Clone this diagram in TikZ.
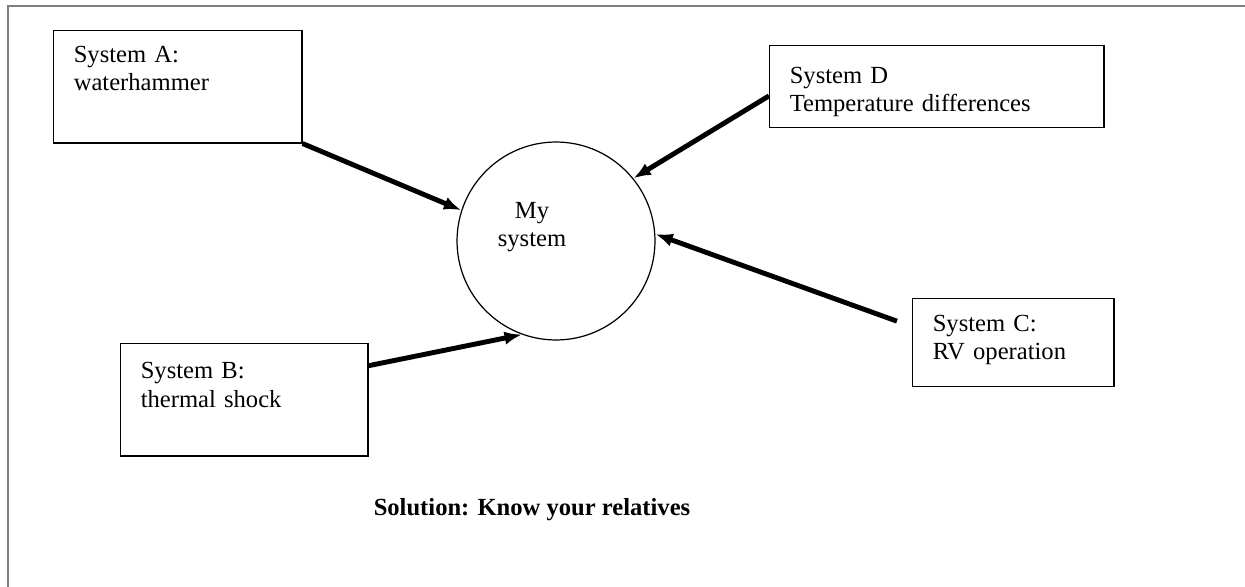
\documentclass[tikz,border=0pt]{standalone}
\usepackage{fontspec}
\setmainfont{Liberation Serif}
\usetikzlibrary{arrows.meta,calc}

\tikzset{
  sysbox/.style n args={3}{draw, line width=0.7pt, anchor=north west, align=left,
    inner xsep=9.8pt, inner ysep=0pt, text width=#1, text height=#2, text depth=#3},
  relarrow/.style={line width=2.4pt, -{Latex[length=8.5pt,width=6.5pt]}},
}

\begin{document}
\begin{tikzpicture}[x=0.488pt, y=-0.488pt, font=\fontsize{12}{13.8}\selectfont]
  \useasboundingbox (0,0) rectangle (1245,587);
  \draw[gray, line width=0.5pt] (8,587) -- (8,6) -- (1245,6);

  % the neighbouring systems
  \node[sysbox={101.5pt}{15.6pt}{39.1pt}] (a) at (53,30) {System A:\\waterhammer};
  \node[sysbox={101.0pt}{17.1pt}{37.6pt}] (b) at (120,343) {System B:\\thermal shock};
  \node[sysbox={78.6pt}{16.1pt}{26.8pt}] (c) at (912,298) {System C:\\RV operation};
  \node[sysbox={143.5pt}{18.5pt}{21.5pt}] (d) at (769,45) {System D\\Temperature differences};

  % my system
  \node[draw, circle, line width=0.6pt, minimum size=96.6pt, inner sep=0pt] (sys) at (556,241) {};
  \node[align=center] (systxt) at (532,227) {My\\system};

  \draw[relarrow] (a.south east) -- (sys.162);
  \draw[relarrow] ($(b.north east)!0.2!(b.south east)$) -- (sys.250);
  \draw[relarrow, shorten <=7.8pt] ($(c.north west)!0.32!(c.south west)$) -- (sys.4);
  \draw[relarrow] ($(d.north west)!0.61!(d.south west)$) -- (sys.39);

  \node[font=\bfseries\fontsize{12}{13.8}\selectfont] (caption) at (532,510) {Solution: Know your relatives};
\end{tikzpicture}
\end{document}
